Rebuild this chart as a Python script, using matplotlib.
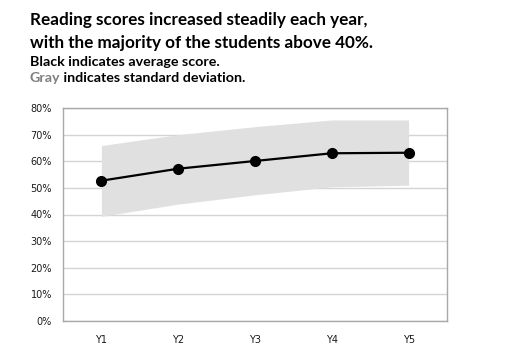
import matplotlib
matplotlib.use("Agg")
import matplotlib.pyplot as plt
from matplotlib.ticker import PercentFormatter

# average reading score per year and the +/- one standard deviation band
years = ["Y1", "Y2", "Y3", "Y4", "Y5"]
avg_score = [52.7, 57.2, 60.1, 63.0, 63.2]
band_upper = [65.9, 70.0, 73.0, 75.5, 75.5]
band_lower = [39.3, 43.9, 47.4, 50.4, 51.0]

W, H = 510, 350
fig = plt.figure(figsize=(W / 100, H / 100), dpi=100)
fig.patch.set_facecolor("white")

ax = fig.add_axes([63 / W, (H - 321) / H, 384 / W, 213 / H])

x = list(range(1, len(years) + 1))
ax.fill_between(x, band_lower, band_upper, color="#e0e0e0", lw=0, zorder=1)
ax.plot(x, avg_score, color="black", lw=1.6, marker="o", ms=7, zorder=3)

ax.set_xlim(0.5, len(years) + 0.5)
ax.set_ylim(0, 80)
ax.set_yticks(range(0, 81, 10))
ax.yaxis.set_major_formatter(PercentFormatter(decimals=0))
ax.set_xticks(x)
ax.set_xticklabels(years)
ax.grid(axis="y", color="#d4d4d4", lw=1)
ax.set_axisbelow(True)
for side in ax.spines.values():
    side.set_color("#a8a8a8")
    side.set_linewidth(1)
ax.tick_params(length=0, labelsize=7, colors="#1a1a1a")
ax.tick_params(axis="y", pad=8)
ax.tick_params(axis="x", pad=10)
for lab in ax.get_xticklabels() + ax.get_yticklabels():
    lab.set_family("DejaVu Sans")

# headline and notes
title_font = dict(family="Lato", weight="bold", color="black")
fig.text(30 / W, 1 - 25 / H, "Reading scores increased steadily each year,",
         fontsize=12.3, va="baseline", **title_font)
fig.text(30 / W, 1 - 48 / H, "with the majority of the students above 40%.",
         fontsize=12.3, va="baseline", **title_font)
fig.text(30 / W, 1 - 66 / H, "Black indicates average score.",
         fontsize=10.3, va="baseline", **title_font)
gray = fig.text(30 / W, 1 - 84 / H, "Gray", fontsize=10.3, va="bottom",
                family="Lato", weight="bold", color="#7f7f7f")
ax.annotate(" indicates standard deviation.", xy=(1, 0), xycoords=gray,
            va="bottom", ha="left", fontsize=10.3, **title_font)

fig.savefig("out.png", dpi=100)
